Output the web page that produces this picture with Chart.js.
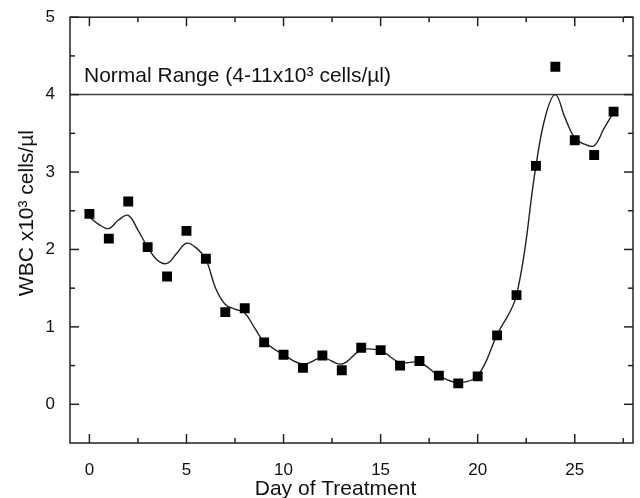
<!DOCTYPE html>
<html>
<head>
<meta charset="utf-8">
<script src="https://cdn.jsdelivr.net/npm/chart.js@4.4.0/dist/chart.umd.min.js"></script>
<style>
    html, body { margin: 0; padding: 0; background: #fff; }
    #wrap { width: 640px; height: 498px; }
</style>
</head>
<body>
<div id="wrap"><canvas id="wbcChart"></canvas></div>
<script>
// measured WBC counts (x10^3 cells/ul) per day
const days = [0, 1, 2, 3, 4, 5, 6, 7, 8, 9, 10, 11, 12, 13, 14, 15, 16, 17, 18, 19, 20, 21, 22, 23, 24, 25, 26, 27];
const wbcValues = [2.46, 2.14, 2.62, 2.03, 1.65, 2.24, 1.88, 1.19, 1.24, 0.80, 0.64, 0.47, 0.63, 0.44, 0.73, 0.70, 0.50, 0.56, 0.37, 0.27, 0.36, 0.89, 1.41, 3.08, 4.36, 3.41, 3.22, 3.78];

// smoothed curve (half days where it bends a lot)
const fitDays = [0, 0.5, 1, 1.5, 2, 2.5, 3, 3.5, 4, 4.5, 5, 5.5, 6, 6.5, 7, 7.5, 8, 8.5, 9, 10, 11, 12, 13, 14, 15, 16, 17, 18, 19, 20, 21, 22, 23, 23.5, 24, 24.5, 25, 25.5, 26, 26.5, 27];
const fitValues = [2.42, 2.32, 2.27, 2.38, 2.44, 2.25, 2.03, 1.86, 1.82, 1.95, 2.08, 2.02, 1.87, 1.50, 1.29, 1.23, 1.18, 0.99, 0.81, 0.64, 0.52, 0.60, 0.52, 0.70, 0.69, 0.54, 0.54, 0.37, 0.28, 0.37, 0.90, 1.41, 3.08, 3.73, 4.00, 3.70, 3.44, 3.36, 3.34, 3.56, 3.77];

const xTicks = [0, 5, 10, 15, 20, 25];
const xMinorTicks = [2.5, 7.5, 12.5, 17.5, 22.5, 27.5];
const yTicks = [0, 1, 2, 3, 4, 5];
const yMinorTicks = [0.5, 1.5, 2.5, 3.5, 4.5];

const normalLower = 4;
const normalLabel = 'Normal Range (4-11x10\u00B3 cells/\u00B5l)';
const xTitle = 'Day of Treatment';
const yTitle = 'WBC x10\u00B3 cells/\u00B5l';

const FONT = "'Liberation Sans', Arial, Helvetica, sans-serif";
const INK = '#111';

const framePlugin = {
    id: 'frame',
    beforeDatasetsDraw(chart) {
        const { ctx, chartArea: a, scales } = chart;
        const y4 = scales.y.getPixelForValue(normalLower);
        ctx.save();
        ctx.strokeStyle = '#444';
        ctx.lineWidth = 1.5;
        ctx.beginPath();
        ctx.moveTo(a.left, y4);
        ctx.lineTo(a.right, y4);
        ctx.stroke();

        ctx.fillStyle = INK;
        ctx.font = '21px ' + FONT;
        ctx.textAlign = 'left';
        ctx.textBaseline = 'alphabetic';
        ctx.fillText(normalLabel, a.left + 14, y4 - 13);
        ctx.restore();
    },
    afterDraw(chart) {
        const { ctx, chartArea: a, scales } = chart;
        ctx.save();
        ctx.strokeStyle = '#222';
        ctx.lineWidth = 1.5;
        ctx.strokeRect(a.left, a.top, a.right - a.left, a.bottom - a.top);

        const tick = (x1, y1, x2, y2) => {
            ctx.beginPath();
            ctx.moveTo(x1, y1);
            ctx.lineTo(x2, y2);
            ctx.stroke();
        };
        xTicks.forEach(v => {
            const x = scales.x.getPixelForValue(v);
            tick(x, a.bottom, x, a.bottom - 9);
            tick(x, a.top, x, a.top + 9);
        });
        xMinorTicks.forEach(v => {
            const x = scales.x.getPixelForValue(v);
            tick(x, a.bottom, x, a.bottom - 5);
            tick(x, a.top, x, a.top + 5);
        });
        yTicks.forEach(v => {
            const y = scales.y.getPixelForValue(v);
            tick(a.left, y, a.left + 9, y);
            tick(a.right, y, a.right - 9, y);
        });
        yMinorTicks.forEach(v => {
            const y = scales.y.getPixelForValue(v);
            tick(a.left, y, a.left + 5, y);
            tick(a.right, y, a.right - 5, y);
        });

        // axis titles
        ctx.fillStyle = INK;
        ctx.font = '21px ' + FONT;
        ctx.textAlign = 'center';
        ctx.textBaseline = 'alphabetic';
        const midX = (a.left + a.right) / 2 - 16;
        ctx.fillText(xTitle, midX, a.bottom + 52);

        const midY = (a.top + a.bottom) / 2 - 17;
        ctx.translate(33, midY);
        ctx.rotate(-Math.PI / 2);
        ctx.fillText(yTitle, 0, 0);
        ctx.restore();
    }
};

const pointData = days.map((d, i) => ({ x: d, y: wbcValues[i] }));
const fitData = fitDays.map((d, i) => ({ x: d, y: fitValues[i] }));

new Chart(document.getElementById('wbcChart'), {
    type: 'scatter',
    data: {
        datasets: [
            {
                label: 'WBC',
                data: pointData,
                pointStyle: 'rect',
                pointRadius: 7,
                pointBorderWidth: 0,
                backgroundColor: '#000',
                borderColor: '#000',
                showLine: false
            },
            {
                label: 'Fit',
                data: fitData,
                showLine: true,
                pointRadius: 0,
                borderColor: '#222',
                borderWidth: 1.4,
                tension: 0.4,
                fill: false
            }
        ]
    },
    options: {
        responsive: true,
        maintainAspectRatio: false,
        animation: false,
        layout: { padding: { top: 15, right: 5, left: 0, bottom: 0 } },
        plugins: { legend: { display: false }, tooltip: { enabled: false } },
        scales: {
            x: {
                type: 'linear',
                min: -1,
                max: 28,
                grid: { display: false },
                border: { display: false },
                afterBuildTicks: s => { s.ticks = xTicks.map(v => ({ value: v })); },
                afterFit: s => { s.height = 55; },
                ticks: { font: { family: FONT, size: 17 }, color: INK, padding: 9, maxRotation: 0 }
            },
            y: {
                type: 'linear',
                min: -0.5,
                max: 5,
                grid: { display: false },
                border: { display: false },
                afterBuildTicks: s => { s.ticks = yTicks.map(v => ({ value: v })); },
                afterFit: s => { s.width = 70; },
                ticks: { font: { family: FONT, size: 17 }, color: INK, padding: 7 }
            }
        }
    },
    plugins: [framePlugin]
});
</script>
</body>
</html>
